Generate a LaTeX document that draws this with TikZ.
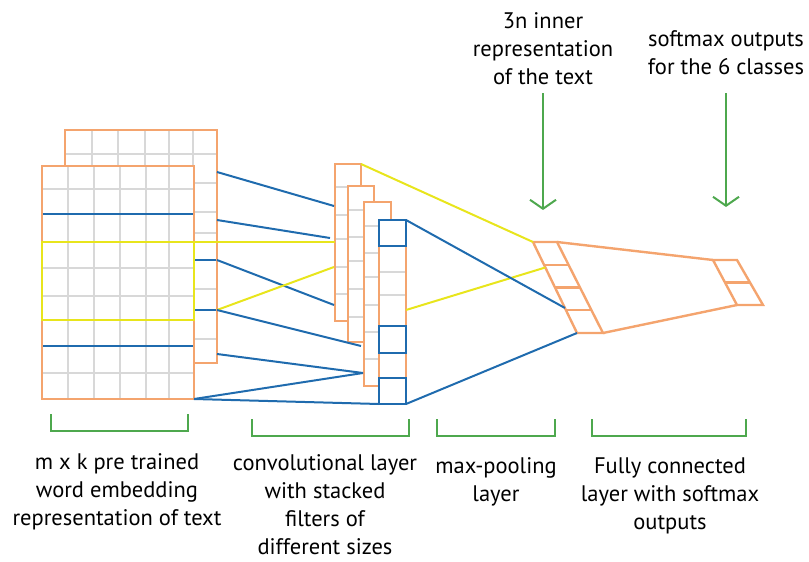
\documentclass[tikz,border=0pt]{standalone}
\usepackage{fontspec}
\setmainfont{PT Sans}
\usetikzlibrary{arrows.meta,calc}

\definecolor{frameorange}{HTML}{F4A46E}
\definecolor{linkblue}{HTML}{1F6BAE}
\definecolor{linkyellow}{HTML}{E8E51C}
\definecolor{gridgray}{HTML}{D8D8D8}
\definecolor{notegreen}{HTML}{4EA84E}

\tikzset{
  frame/.style={draw=frameorange, line width=2.4pt, fill=white},
  frameline/.style={draw=frameorange, line width=2.4pt, line join=miter, line cap=rect},
  gridline/.style={draw=gridgray, line width=2.2pt},
  bluelink/.style={draw=linkblue, line width=2pt},
  yellowlink/.style={draw=linkyellow, line width=2pt},
  bluebox/.style={draw=linkblue, line width=2.2pt},
  bracket/.style={draw=notegreen, line width=2pt},
  pointer/.style={draw=notegreen, line width=2pt, -{Straight Barb[length=9pt,width=26pt,line width=2pt]}},
  caption/.style={align=center, font=\fontsize{22.5}{28}\selectfont, inner sep=0pt},
}

\begin{document}
\begin{tikzpicture}[x=1pt,y=-1pt]
\useasboundingbox (0,0) rectangle (809,562);

% ---------------- word embedding matrices ----------------
% back matrix
\fill[white] (65,130) rectangle (217,363);
\foreach \x in {92,118,145,169,193} \draw[gridline] (\x,130) -- (\x,363);
\foreach \y in {154,183,212,233,289,339} \draw[gridline] (65,\y) -- (217,\y);
\foreach \y in {260,310} \draw[bluelink] (65,\y) -- (217,\y);
\draw[frame, fill=none] (65,130) rectangle (217,363);

% front matrix
\fill[white] (42,166) rectangle (194,399);
\foreach \x in {68,94,120,146,169} \draw[gridline] (\x,166) -- (\x,399);
\foreach \y in {189,268,296,373} \draw[gridline] (42,\y) -- (194,\y);
\foreach \y in {214,346} \draw[bluelink] (42,\y) -- (194,\y);
\draw[frame, fill=none] (42,166) rectangle (194,399);
\draw[yellowlink, line width=2.4pt] (42,242) rectangle (194,320);

% ---------------- convolutional filters ----------------
\draw[frame] (335,164) rectangle (361,321);
\foreach \y in {187,215,239,267,294} \draw[gridline] (336,\y) -- (360,\y);
\draw[frame] (348,186) rectangle (374,342);
\foreach \y in {210,237,261,289,317} \draw[gridline] (349,\y) -- (373,\y);
\draw[frame] (364,202) rectangle (391,386);
\foreach \y in {226,253,277,305,332,359} \draw[gridline] (365,\y) -- (390,\y);
\fill[white] (379,220) rectangle (406,404);
\foreach \y in {272,295} \draw[gridline] (380,\y) -- (405,\y);
\draw[frameline] (379,220) -- (379,404);
\draw[frameline] (406,220) -- (406,404);
\draw[bluebox] (379,220) rectangle (406,246);
\draw[bluebox] (379,326) rectangle (406,353);
\draw[bluebox] (379,378) rectangle (406,404);

% named anchors on the embedding matrices
\coordinate (e1) at (217,172);
\coordinate (e2) at (217,220);
\coordinate (e3) at (217,242);
\coordinate (e4) at (217,260);
\coordinate (e5) at (217,310);
\coordinate (e6) at (217,354);
\coordinate (e7) at (194,399);
% named anchors on the filters
\coordinate (c1) at (334,206);
\coordinate (c2) at (330,238);
\coordinate (c3) at (335,242);
\coordinate (c4) at (334,305);
\coordinate (c5) at (334,267);
\coordinate (c6) at (361,346);
\coordinate (c7) at (363,373);
\coordinate (c8) at (379,404);
\coordinate (aTR) at (361,164);
\coordinate (dTR) at (406,220);
\coordinate (dMid) at (406,310);
\coordinate (dBR) at (406,404);

% word-window to filter connections
\draw[bluelink] (e1) -- (c1);
\draw[bluelink] (e2) -- (c2);
\draw[yellowlink] (194,242) -- (e3) -- (c3);
\draw[bluelink] (e4) -- (c4);
\draw[yellowlink] (e5) -- (c5);
\draw[bluelink] (e5) -- (c6);
\draw[bluelink] (e6) -- (c7);
\draw[bluelink] (e7) -- (c7);
\draw[bluelink] (e7) -- (c8);

% ---------------- max-pooling column ----------------
\coordinate (pTL) at (533,242);
\coordinate (pTR) at (557,242);
\coordinate (pBL) at (577,333);
\coordinate (pBR) at (603,333);
\foreach \t in {0.25,0.5,0.75}
  \draw[frameline, line cap=butt] ($(pTL)!\t!(pBL)$) -- ($(pTR)!\t!(pBR)$);
\draw[frameline, line cap=butt] (pTL) -- (pTR) -- (pBR) -- (pBL) -- cycle;

% filter to pooling connections
\draw[yellowlink] (aTR) -- (pTL);
\draw[yellowlink] (dMid) -- ($(pTL)!0.28!(pBL)$);
\draw[bluelink] (dTR) -- ($(pTL)!0.725!(pBL)$);
\draw[bluelink] (dBR) -- (pBL);

% ---------------- softmax outputs ----------------
\coordinate (oTL) at (713,260);
\coordinate (oTR) at (737,260);
\coordinate (oBL) at (737,305);
\coordinate (oBR) at (763,305);
\draw[frameline, line cap=butt] ($(oTL)!0.5!(oBL)$) -- ($(oTR)!0.5!(oBR)$);
\draw[frameline, line cap=butt] (oTL) -- (oTR) -- (oBR) -- (oBL) -- cycle;
\draw[frameline, line cap=butt] (pTR) -- (oTL);
\draw[frameline, line cap=butt] (pBR) -- (oBL);

% ---------------- annotations ----------------
\node[caption] (inner) at (543,49) {3n inner\\representation\\of the text};
\node[caption] (classes) at (726,53) {softmax outputs\\for the 6 classes};
\coordinate (innerTip) at (543,210);
\coordinate (classesTip) at (726,207);
\draw[pointer] (543,93) -- (innerTip);
\draw[pointer] (726,93) -- (classesTip);

\draw[bracket] (51,414) -- (51,431) -- (188,431) -- (188,414);
\draw[bracket] (252,419) -- (252,436) -- (409,436) -- (409,419);
\draw[bracket] (437,419) -- (437,436) -- (555,436) -- (555,419);
\draw[bracket] (592,419) -- (592,436) -- (746,436) -- (746,419);

\node[caption] (embedCap) at (117,492) {m x k pre trained\\word embedding\\representation of text};
\node[caption] (convCap) at (325,505) {convolutional layer\\with stacked\\filters of\\different sizes};
\node[caption] (poolCap) at (496,482) {max-pooling\\layer};
\node[caption] (fcCap) at (670,496) {Fully connected\\layer with softmax\\outputs};
\end{tikzpicture}
\end{document}
